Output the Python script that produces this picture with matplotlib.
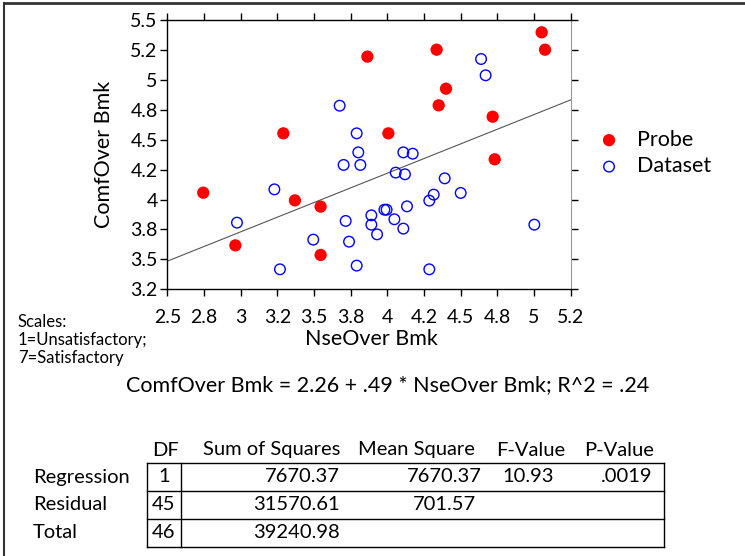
import numpy as np
import matplotlib
matplotlib.use("Agg")
import matplotlib.pyplot as plt
from matplotlib.lines import Line2D

plt.rcParams['font.family'] = ['Lato', 'DejaVu Sans']

# Probe points (filled red)
probe_x = [2.745, 2.964, 3.291, 3.370, 3.545, 3.545, 3.864, 4.007, 4.336, 4.400,
           4.350, 4.718, 4.732, 5.052, 5.075]
probe_y = [4.057, 3.617, 4.553, 3.993, 3.941, 3.537, 5.194, 4.553, 5.252, 4.926,
           4.787, 4.692, 4.336, 5.397, 5.252]

# Dataset points (open blue)
data_x = [4.639, 4.670, 3.675, 3.791, 3.802, 3.702, 3.816, 4.109, 4.173, 4.057,
          4.120, 4.391, 3.230, 4.500, 4.316, 4.286, 4.134, 3.980, 3.995, 3.891,
          4.048, 3.891, 4.109, 3.930, 3.716, 2.975, 3.495, 3.739, 5.002, 3.268,
          3.791, 4.286]
data_y = [5.174, 5.038, 4.784, 4.553, 4.394, 4.289, 4.289, 4.394, 4.383, 4.225,
          4.211, 4.177, 4.085, 4.055, 4.041, 3.991, 3.943, 3.915, 3.915, 3.868,
          3.835, 3.790, 3.757, 3.709, 3.821, 3.807, 3.665, 3.648, 3.790, 3.417,
          3.448, 3.417]

intercept, slope = 2.26, 0.49

x_ticks = [2.5, 2.75, 3.0, 3.25, 3.5, 3.75, 4.0, 4.25, 4.5, 4.75, 5.0, 5.25]
x_tick_labels = ['2.5', '2.8', '3', '3.2', '3.5', '3.8', '4', '4.2', '4.5', '4.8', '5', '5.2']
y_ticks = [3.25, 3.5, 3.75, 4.0, 4.25, 4.5, 4.75, 5.0, 5.25, 5.5]
y_tick_labels = ['3.2', '3.5', '3.8', '4', '4.2', '4.5', '4.8', '5', '5.2', '5.5']

# ANOVA table
row_names = ['Regression', 'Residual', 'Total']
col_names = ['DF', 'Sum of Squares', 'Mean Square', 'F-Value', 'P-Value']
df_vals = ['1', '45', '46']
ss_vals = ['7670.37', '31570.61', '39240.98']
ms_vals = ['7670.37', '701.57', '']
f_vals = ['10.93', '', '']
p_vals = ['.0019', '', '']

W, H = 745, 556
fig = plt.figure(figsize=(W / 100, H / 100), dpi=100)
ax = fig.add_axes([167.3 / W, 1 - 289.3 / H, 403.4 / W, 269.3 / H])

ax.scatter(probe_x, probe_y, s=78, color='#ff0000', edgecolors='none', label='Probe', zorder=3)
ax.scatter(data_x, data_y, s=58, facecolors='none', edgecolors='#0000ff', linewidths=1.0,
           label='Dataset', zorder=3)

xl = np.array([2.5, 5.25])
ax.plot(xl, intercept + slope * xl, color='#555555', lw=0.8, zorder=2)

ax.set_xlim(2.5, 5.25)
ax.set_ylim(3.25, 5.5)
ax.set_xticks(x_ticks)
ax.set_xticklabels(x_tick_labels)
ax.set_yticks(y_ticks)
ax.set_yticklabels(y_tick_labels)
ax.tick_params(direction='out', length=5, width=1, labelsize=14, color='black',
               top=True, right=True)
ax.tick_params(axis='x', pad=9)
ax.tick_params(axis='y', pad=2)
ax.spines['right'].set_color('#999999')
for s in ['left', 'bottom', 'top']:
    ax.spines[s].set_linewidth(1.0)

ax.set_xlabel('NseOver Bmk', fontsize=15.5)
ax.xaxis.set_label_coords(0.505, -0.148)
ax.set_ylabel('ComfOver Bmk', fontsize=15.5, labelpad=12)

leg = ax.legend(loc='center left', frameon=False, fontsize=15.5, handlelength=1.0,
                handletextpad=0.8, labelspacing=0.3, borderaxespad=0)
leg.set_bbox_to_anchor((1.047, 0.506), transform=ax.transAxes)

# scale note
fig.text(18 / W, 1 - 322 / H, 'Scales:', fontsize=12, va='center')
fig.text(18 / W, 1 - 340 / H, '1=Unsatisfactory;', fontsize=12, va='center')
fig.text(18 / W, 1 - 358 / H, '7=Satisfactory', fontsize=12, va='center')

# regression equation
fig.text(388 / W, 1 - 391 / H,
         'ComfOver Bmk = 2.26 + .49 * NseOver Bmk; R^2 = .24',
         fontsize=15.5, ha='center', va='baseline')

# table
fs = 14.5
tbl_left, tbl_right, tbl_sep = 147, 664, 181
row_lines = [463, 491, 519, 547]
header_y = 450
fig.text(166 / W, 1 - header_y / H, col_names[0], fontsize=fs, ha='center', va='center')
fig.text(272 / W, 1 - header_y / H, col_names[1], fontsize=fs, ha='center', va='center')
fig.text(416 / W, 1 - header_y / H, col_names[2], fontsize=fs, ha='center', va='center')
fig.text(531 / W, 1 - header_y / H, col_names[3], fontsize=fs, ha='center', va='center')
fig.text(619 / W, 1 - header_y / H, col_names[4], fontsize=fs, ha='center', va='center')

for i, name in enumerate(row_names):
    yc = 1 - (row_lines[i] + row_lines[i + 1]) / 2 / H
    fig.text(33 / W, yc, name, fontsize=fs, ha='left', va='center')
    fig.text(164 / W, yc, df_vals[i], fontsize=fs, ha='center', va='center')
    fig.text(340 / W, yc, ss_vals[i], fontsize=fs, ha='right', va='center')
    fig.text(444 / W, yc, ms_vals[i], fontsize=fs, ha='center', va='center')
    fig.text(528 / W, yc, f_vals[i], fontsize=fs, ha='center', va='center')
    fig.text(652 / W, yc, p_vals[i], fontsize=fs, ha='right', va='center')

for y in row_lines:
    fig.add_artist(Line2D([tbl_left / W, tbl_right / W], [1 - y / H, 1 - y / H],
                          color='black', lw=1))
for x in [tbl_left, tbl_sep, tbl_right]:
    fig.add_artist(Line2D([x / W, x / W], [1 - row_lines[0] / H, 1 - row_lines[-1] / H],
                          color='black', lw=1))

# outer frame
fig.add_artist(Line2D([4 / W, 4 / W], [0, 1 - 3 / H], color='#333333', lw=1.5))
fig.add_artist(Line2D([4 / W, 1], [1 - 3 / H, 1 - 3 / H], color='#333333', lw=2.0))

fig.savefig('out.png', dpi=100)
